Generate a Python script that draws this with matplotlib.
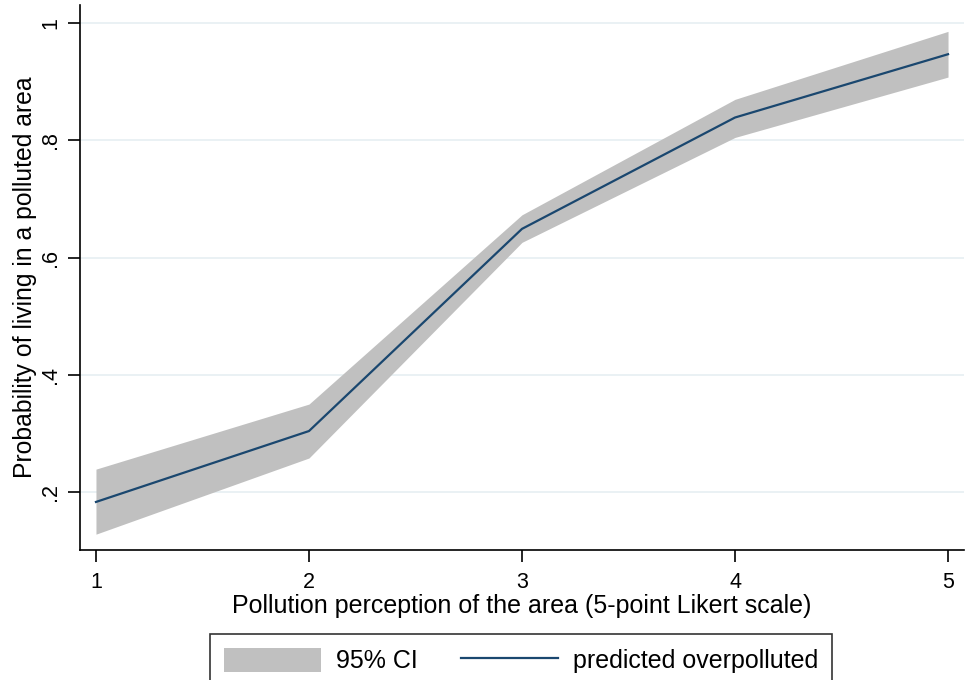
import numpy as np
import matplotlib
matplotlib.use("Agg")
import matplotlib.pyplot as plt
from matplotlib.patches import Patch
from matplotlib.lines import Line2D

plt.rcParams['font.family'] = ['Liberation Sans', 'DejaVu Sans']

# data
likert = [1, 2, 3, 4, 5]
predicted = [0.183, 0.304, 0.649, 0.839, 0.947]
ci_low = [0.128, 0.258, 0.626, 0.805, 0.908]
ci_high = [0.239, 0.350, 0.673, 0.870, 0.986]
yticks = [0.2, 0.4, 0.6, 0.8, 1.0]
ytick_labels = ['.2', '.4', '.6', '.8', '1']

fig = plt.figure(figsize=(9.66, 6.8), dpi=100)
ax = fig.add_axes([80 / 966, 130 / 680, 884 / 966, 545 / 680])

ax.fill_between(likert, ci_low, ci_high, color='#c0c0c0', linewidth=0, zorder=2)
ax.plot(likert, predicted, color='#1a476f', linewidth=1.6, zorder=3)

ax.set_xlim(0.925, 5.075)
ax.set_ylim(0.101, 1.031)
ax.set_xticks(likert)
ax.set_yticks(yticks)
ax.set_yticklabels(ytick_labels, rotation=90, va='center')
ax.tick_params(axis='both', direction='out', length=8.5, width=1.2, labelsize=15.5)
ax.tick_params(axis='x', pad=7)
ax.tick_params(axis='y', pad=5)
ax.grid(axis='y', color='#e6eff2', linewidth=1.2, zorder=1)
ax.grid(axis='x', visible=False)

for side in ['top', 'right']:
    ax.spines[side].set_visible(False)
for side in ['left', 'bottom']:
    ax.spines[side].set_linewidth(1.2)

ax.set_xlabel('Pollution perception of the area (5-point Likert scale)', fontsize=18, labelpad=1)
ax.set_ylabel('Probability of living in a polluted area', fontsize=17.8, labelpad=2)

handles = [Patch(facecolor='#c0c0c0', edgecolor='none'),
           Line2D([0], [0], color='#1a476f', linewidth=1.6)]
leg = fig.legend(handles, ['95% CI', 'predicted overpolluted'], loc='upper left',
                 bbox_to_anchor=(210 / 966, 1 - 634 / 680), ncol=2, frameon=True,
                 fancybox=False, fontsize=18, handlelength=3.9, handleheight=1.1,
                 columnspacing=1.7, borderpad=0.55, handletextpad=0.6,
                 borderaxespad=0)
leg.get_frame().set_edgecolor('black')
leg.get_frame().set_linewidth(1.2)

fig.savefig('out.png', dpi=100)
